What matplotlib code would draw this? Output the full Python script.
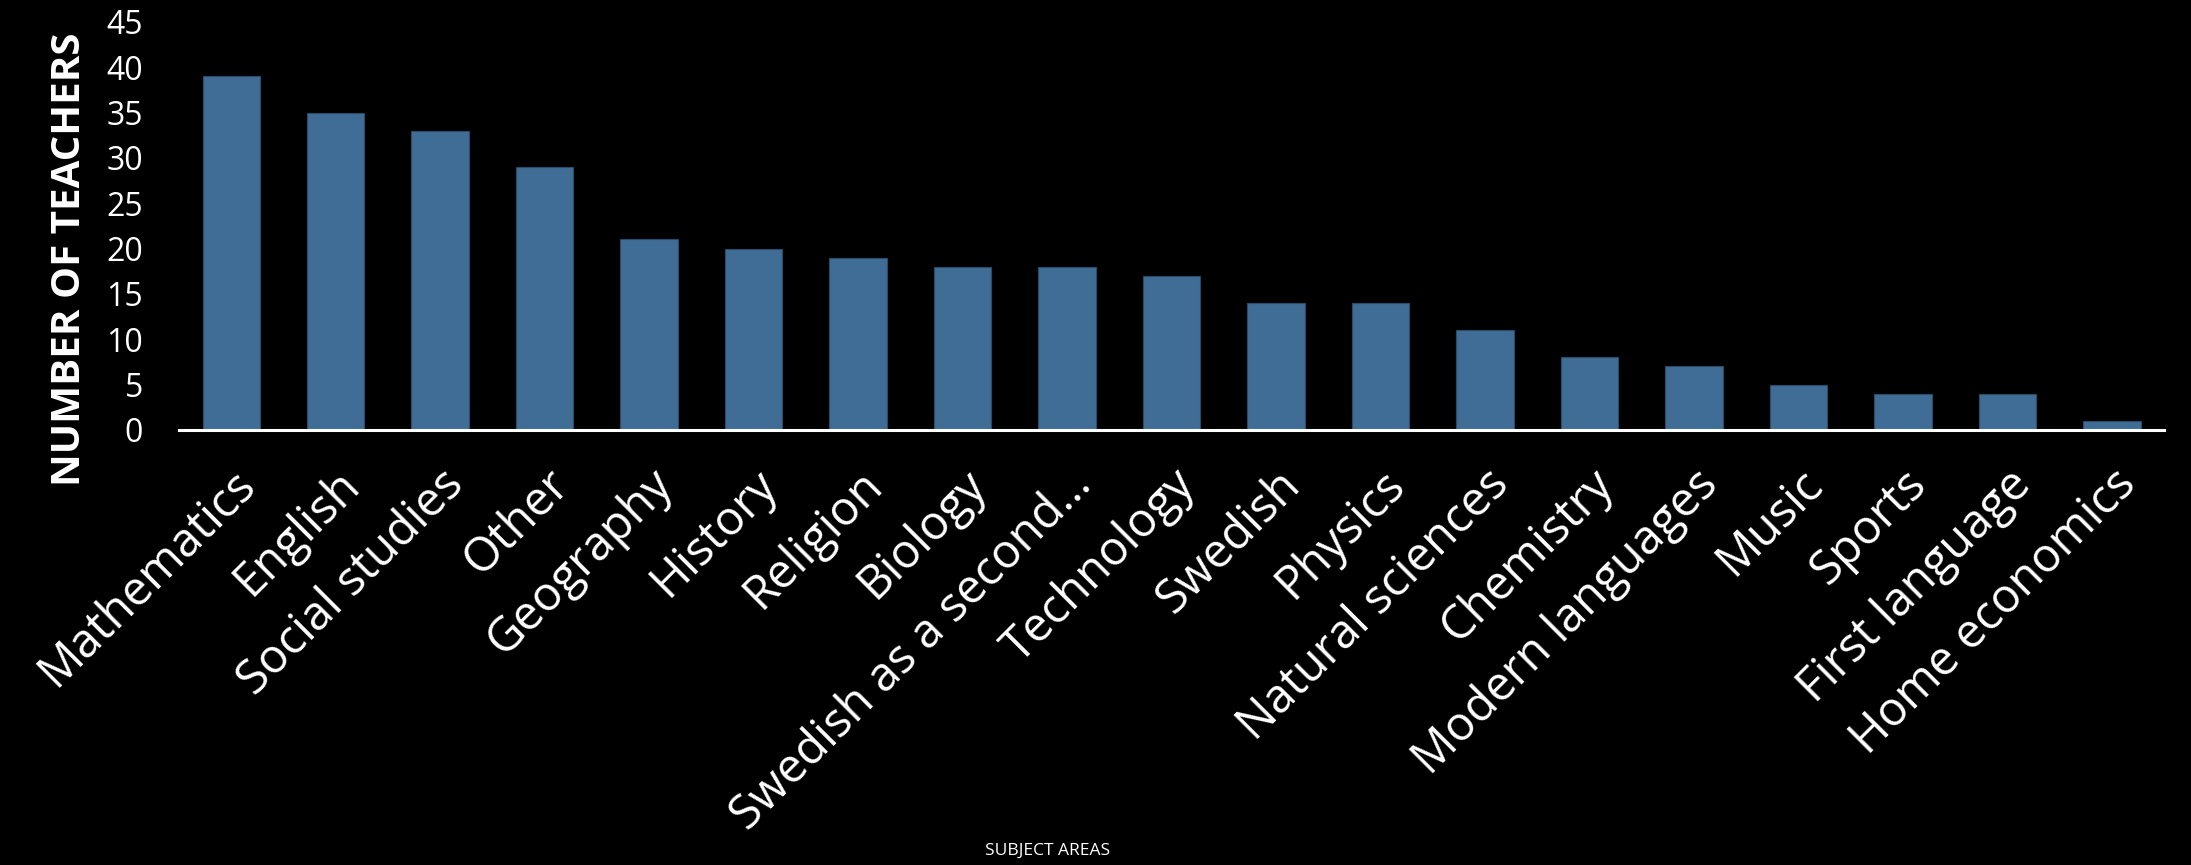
"""
Number of teachers per subject area, bar chart on black background.
"""
import matplotlib
matplotlib.use('Agg')
import matplotlib.pyplot as plt
import numpy as np

subjects = ["Mathematics", "English", "Social studies", "Other", "Geography",
            "History", "Religion", "Biology", "Swedish as a second…", "Technology",
            "Swedish", "Physics", "Natural sciences", "Chemistry", "Modern languages",
            "Music", "Sports", "First language", "Home economics"]
teachers = [39, 35, 33, 29, 21, 20, 19, 18, 18, 17, 14, 14, 11, 8, 7, 5, 4, 4, 1]
yticks = list(range(0, 50, 5))


def main():
    plt.rcParams['font.family'] = ['Open Sans', 'DejaVu Sans']
    fig = plt.figure(figsize=(21.91, 8.65), dpi=100, facecolor="black")
    ax = fig.add_axes([0.0817, 0.503, 0.906, 0.4717], facecolor="black")

    x = np.arange(len(subjects))
    ax.bar(x, teachers, width=0.55, color="#3f6d96", edgecolor="#2a4a66",
           linewidth=0.8, zorder=2)

    ax.set_xlim(-0.5, len(subjects) - 0.5)
    ax.set_ylim(0, 45)
    ax.set_yticks(yticks)
    ax.set_yticklabels([str(v) for v in yticks])
    ax.set_xticks(x)
    ax.set_xticklabels(subjects, rotation=45, ha="right", rotation_mode="anchor")

    ax.tick_params(axis="y", length=0, pad=26, labelsize=23, labelcolor="white")
    ax.tick_params(axis="x", length=0, pad=22, labelsize=34, labelcolor="white")

    for side in ["top", "right", "left"]:
        ax.spines[side].set_visible(False)
    ax.spines["bottom"].set_color("white")
    ax.spines["bottom"].set_linewidth(2.2)
    ax.spines["bottom"].set_zorder(3)

    fig.text(0.0315, 0.70, "NUMBER OF TEACHERS", rotation=90, color="white",
             fontsize=29, fontweight="bold", ha="center", va="center")
    fig.text(0.478, 0.0165, "SUBJECT AREAS", color="white", fontsize=12.5,
             ha="center", va="center")

    fig.savefig("out.png", dpi=100, facecolor="black")


if __name__ == "__main__":
    main()
